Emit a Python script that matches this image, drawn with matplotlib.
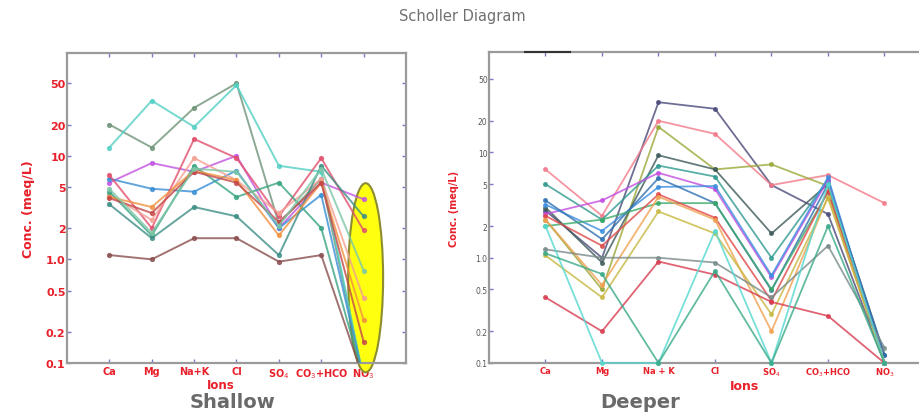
import matplotlib
matplotlib.use("Agg")
import matplotlib.pyplot as plt
from matplotlib.patches import Ellipse
from matplotlib.ticker import FixedLocator, FixedFormatter, NullLocator

# ---------------- data ----------------
ions_shallow = ["Ca", "Mg", "Na+K", "Cl", "SO$_4$", "CO$_3$+HCO", "NO$_3$"]
ions_deeper = ["Ca", "Mg", "Na + K", "Cl", "SO$_4$", "CO$_3$+HCO", "NO$_3$"]
ytick_vals = [0.1, 0.2, 0.5, 1.0, 2, 5, 10, 20, 50]
ytick_labels = ["0.1", "0.2", "0.5", "1.0", "2", "5", "10", "20", "50"]

# Shallow samples (meq/L): Ca, Mg, Na+K, Cl, SO4, CO3+HCO3, NO3
sh_olive   = [20, 12, 29, 50, 2.2, 6.0, 0.07]
sh_cyan    = [12, 34, 19, 48, 8.0, 7.0, 0.07]
sh_magenta = [5.5, 8.5, 7.0, 10, 2.0, 5.5, 3.8]
sh_blue    = [6.0, 4.8, 4.5, 7.2, 2.0, 4.2, 0.07]
sh_crimson = [6.5, 2.0, 14.5, 9.5, 2.6, 9.5, 1.9]
sh_salmon  = [4.2, 2.4, 9.5, 5.8, 2.8, 6.0, 0.42]
sh_green   = [4.5, 1.7, 8.0, 4.0, 5.5, 2.0, 0.07]
sh_teal    = [3.4, 1.6, 3.2, 2.6, 1.1, 8.0, 2.6]
sh_orange  = [4.0, 3.2, 7.2, 5.8, 1.7, 5.5, 0.26]
sh_darkred = [3.9, 2.8, 7.0, 5.5, 2.3, 5.5, 0.16]
sh_ltgreen = [4.8, 1.8, 7.5, 7.0, 2.1, 7.5, 0.78]
sh_brown   = [1.1, 1.0, 1.6, 1.6, 0.95, 1.1, 0.07]

shallow_series = [sh_olive, sh_cyan, sh_magenta, sh_blue, sh_crimson, sh_salmon,
                  sh_green, sh_teal, sh_orange, sh_darkred, sh_ltgreen, sh_brown]
shallow_colors = ["#6f9479", "#52d0c4", "#c455e0", "#3a8fd6", "#e2506e", "#f4a092",
                  "#3aa583", "#3e8f86", "#f2913f", "#c44848", "#7cc7a6", "#8a4f4f"]

# Deeper samples (meq/L)
dp_navy    = [2.8, 1.0, 30, 26, 4.9, 2.6, 0.1]
dp_pink    = [6.9, 2.5, 20, 15, 4.9, 6.1, 3.3]
dp_olive   = [2.3, 0.5, 17.5, 6.9, 7.7, 4.8, 0.1]
dp_slate   = [3.0, 0.9, 9.4, 6.9, 1.7, 5.0, 0.12]
dp_teal    = [5.0, 2.3, 7.5, 5.9, 1.0, 5.5, 0.1]
dp_magenta = [2.6, 3.5, 6.4, 4.5, 0.65, 5.5, 0.1]
dp_blue    = [3.2, 1.8, 4.7, 4.8, 0.68, 5.8, 0.1]
dp_blue2   = [3.5, 1.5, 5.7, 3.3, 0.49, 5.0, 0.12]
dp_green   = [2.0, 2.3, 3.3, 3.3, 0.5, 4.2, 0.1]
dp_red     = [2.5, 1.3, 4.0, 2.4, 0.39, 4.3, 0.1]
dp_orange  = [2.3, 0.55, 3.8, 2.3, 0.2, 3.8, 0.1]
dp_yellow  = [1.05, 0.42, 2.75, 1.7, 0.29, 3.7, 0.1]
dp_gray    = [1.2, 1.0, 1.0, 0.9, 0.42, 1.3, 0.14]
dp_crimson = [0.42, 0.2, 0.92, 0.69, 0.38, 0.28, 0.1]
dp_cyan    = [2.0, 0.1, 0.1, 1.8, 0.1, 5.0, 0.1]
dp_seagrn  = [1.1, 0.7, 0.1, 0.75, 0.1, 2.0, 0.1]

deeper_series = [dp_navy, dp_pink, dp_olive, dp_slate, dp_teal, dp_magenta, dp_blue,
                 dp_blue2, dp_green, dp_red, dp_orange, dp_yellow, dp_gray, dp_crimson,
                 dp_cyan, dp_seagrn]
deeper_colors = ["#4a4a7a", "#f27a8a", "#9aa838", "#3e5a5a", "#2f9a90", "#c44ee0",
                 "#3c8ee0", "#2f70b0", "#3caa6a", "#e04848", "#f0a050", "#c8b840",
                 "#7a8a8a", "#d83c50", "#55d8d0", "#3aaa88"]

# ---------------- figure ----------------
fig = plt.figure(figsize=(9.2, 4.14), dpi=100)
red = "#e8202a"
gray_txt = "#6a6a6a"


def style_axes(ax, ymax, labels, tick_fs, tick_color, tick_bold, xfs):
    ax.set_yscale("log")
    ax.set_xlim(0, 8)
    ax.set_ylim(0.1, ymax)
    ax.yaxis.set_major_locator(FixedLocator(ytick_vals))
    ax.yaxis.set_major_formatter(FixedFormatter(ytick_labels))
    ax.yaxis.set_minor_locator(NullLocator())
    ax.set_xticks(range(1, 8))
    ax.set_xticklabels(labels)
    for sp in ax.spines.values():
        sp.set_color("#9a9a9a")
        sp.set_linewidth(1.6)
    ax.tick_params(axis="both", which="major", direction="in", length=3,
                   color="#7a7ac8", top=True, right=True, width=1)
    ax.tick_params(axis="y", labelsize=tick_fs, labelcolor=tick_color, pad=1)
    ax.tick_params(axis="x", labelsize=xfs, labelcolor=red, pad=2)
    for t in ax.get_yticklabels():
        t.set_fontweight("bold" if tick_bold else "normal")
    for t in ax.get_xticklabels():
        t.set_fontweight("bold")


# Left: Shallow
ax1 = fig.add_axes([67 / 920, 1 - 364 / 414, 339 / 920, 310 / 414])
x = list(range(1, 8))
for s, c in zip(shallow_series, shallow_colors):
    ax1.plot(x, s, color=c, lw=1.4, alpha=0.8, marker="o", ms=2.8, zorder=3)
style_axes(ax1, 98, ions_shallow, 8, red, True, 7)
ell = Ellipse((0.881, 0.275), 0.103, 0.61, transform=ax1.transAxes,
              facecolor="#ffff10", edgecolor="#8c8c30", lw=1.5, zorder=2, clip_on=False)
ax1.add_patch(ell)
ax1.set_ylabel("Conc. (meq/L)", color=red, fontsize=9, fontweight="bold", labelpad=8)
ax1.text(0.455, -0.047, "Ions", transform=ax1.transAxes, color=red, fontsize=8.5,
         fontweight="bold", ha="center", va="top")

# Right: Deeper
ax2 = fig.add_axes([489 / 920, 1 - 364 / 414, 452 / 920, 311 / 414])
for s, c in zip(deeper_series, deeper_colors):
    ax2.plot(x, s, color=c, lw=1.3, alpha=0.8, marker="o", ms=2.6, zorder=3, clip_on=False)
style_axes(ax2, 90, ions_deeper, 5.5, "#555555", False, 6)
ax2.set_ylabel("Conc. (meq/L)", color=red, fontsize=7, fontweight="bold", labelpad=12)
ax2.text(0.565, -0.05, "Ions", transform=ax2.transAxes, color=red, fontsize=9,
         fontweight="bold", ha="center", va="top")
ax2.plot([0.08, 0.18], [1.0, 1.0], transform=ax2.transAxes, color="#333333", lw=1.5,
         clip_on=False, zorder=5)

fig.text(462 / 920, 1 - 16 / 414, "Scholler Diagram", ha="center", va="center",
         color="#707070", fontsize=10.5)
fig.text(233 / 920, 1 - 403 / 414, "Shallow", ha="center", va="center",
         color=gray_txt, fontsize=14, fontweight="bold")
fig.text(640 / 920, 1 - 403 / 414, "Deeper", ha="center", va="center",
         color=gray_txt, fontsize=14, fontweight="bold")

fig.savefig("out.png", dpi=100)
